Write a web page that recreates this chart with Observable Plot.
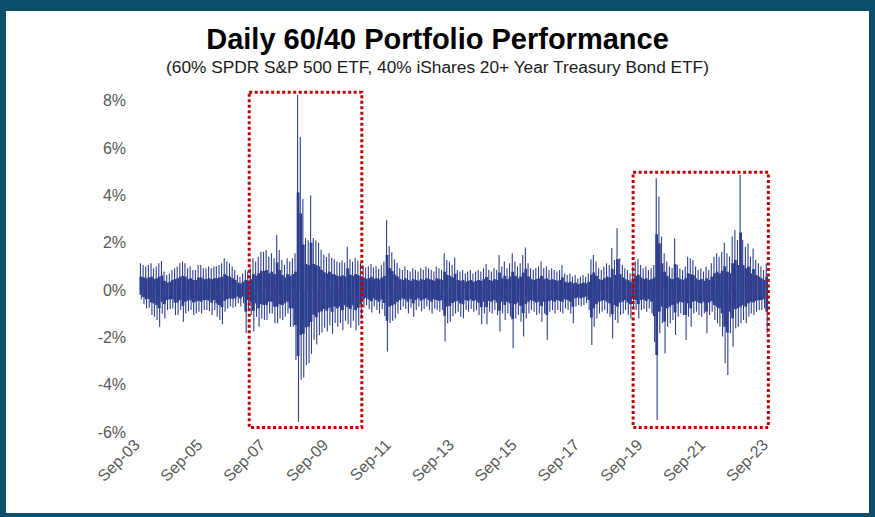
<!DOCTYPE html>
<html>
<head>
<meta charset="utf-8">
<script src="https://cdn.jsdelivr.net/npm/d3@7"></script>
<script src="https://cdn.jsdelivr.net/npm/@observablehq/plot@0.6"></script>
<style>
  html, body { margin: 0; padding: 0; background: #fff; }
  #wrap { position: relative; width: 875px; height: 517px; background: #fff; overflow: hidden; font-family: "Liberation Sans", Arial, sans-serif; }
  #title { position: absolute; left: 0; top: 25px; width: 875px; text-align: center; font-weight: bold; font-size: 29px; color: #000; line-height: 1; }
  #sub { position: absolute; left: 0; top: 59px; width: 875px; text-align: center; font-size: 17.3px; color: #1a1a1a; line-height: 1; }
  #chart { position: absolute; left: 0; top: 80px; }
  #frame { position: absolute; left: 0; top: 0; width: 875px; height: 517px; box-sizing: border-box; border-style: solid; border-color: #0d4f6b; border-width: 11px 6px 4px 6px; pointer-events: none; }
</style>
</head>
<body>
<div id="wrap">
  <div id="title">Daily 60/40 Portfolio Performance</div>
  <div id="sub">(60% SPDR S&amp;P 500 ETF, 40% iShares 20+ Year Treasury Bond ETF)</div>
  <div id="chart"></div>
  <div id="frame"></div>
</div>
<script>
// Monthly envelope of daily returns (%): Oct 2003 .. Sep 2023
const firstMonth = [2003, 9]; // Oct 2003 (UTC month index)
const monthlyHigh = [
  1.13, 1.06, 0.99, 1.06, 1.13, 0.92, 0.99, 1.13, 1.23, 0.78,
  0.63, 0.70, 0.85, 0.92, 0.99, 1.13, 1.20, 1.13, 0.92, 0.99,
  0.85, 0.85, 1.06, 1.06, 0.92, 0.92, 0.99, 0.92, 0.99, 1.00,
  1.06, 1.13, 1.34, 1.20, 1.13, 0.99, 0.85, 0.63, 0.56, 0.70,
  0.85, 0.78, 0.92, 1.34, 1.20, 1.41, 1.62, 1.62, 1.69, 1.41,
  1.55, 1.34, 2.33, 1.69, 1.27, 1.06, 1.34, 1.20, 1.34, 1.55,
  8.25, 6.47, 3.85, 2.20, 2.10, 4.00, 2.20, 2.10, 2.00, 1.70,
  1.50, 1.40, 1.55, 1.35, 1.30, 1.20, 1.15, 1.25, 1.15, 1.83,
  1.30, 1.20, 1.35, 1.25, 1.15, 1.05, 0.95, 1.00, 1.10, 0.95,
  1.00, 0.90, 1.05, 1.20, 2.96, 1.85, 1.60, 1.30, 1.15, 0.92,
  0.85, 0.99, 0.85, 0.78, 0.92, 0.85, 0.78, 0.92, 0.85, 0.99,
  0.92, 0.85, 0.78, 0.99, 0.92, 0.85, 1.55, 1.27, 1.20, 1.06,
  1.37, 0.85, 0.78, 0.85, 0.70, 0.78, 0.85, 0.70, 0.78, 0.85,
  0.78, 0.92, 1.10, 0.85, 0.78, 0.92, 0.85, 1.48, 0.99, 1.20,
  0.92, 1.13, 1.55, 1.20, 0.99, 1.13, 1.48, 1.80, 1.13, 0.92,
  0.85, 0.92, 0.99, 1.20, 0.92, 0.99, 0.85, 0.92, 0.85, 0.78,
  0.85, 1.06, 0.70, 0.63, 0.70, 0.56, 0.63, 0.49, 0.56, 0.63,
  0.56, 0.70, 1.30, 1.48, 1.20, 0.92, 0.85, 0.99, 1.13, 1.06,
  1.78, 1.27, 2.61, 1.34, 1.06, 0.92, 0.85, 0.70, 0.99, 1.20,
  1.30, 1.06, 0.92, 0.99, 0.85, 0.92, 1.06, 4.72, 3.95, 2.26,
  1.55, 1.20, 0.99, 0.92, 2.19, 1.06, 0.92, 0.85, 0.99, 1.41,
  1.34, 1.27, 0.99, 0.85, 0.92, 0.78, 0.99, 0.85, 1.13, 1.41,
  1.55, 1.41, 1.62, 2.00, 1.55, 1.41, 2.26, 2.54, 2.11, 4.86,
  2.11, 1.83, 1.97, 1.41, 1.76, 1.27, 1.13, 0.99, 0.85, 1.13
];
const monthlyLow = [
  -0.40, -0.60, -0.78, -0.75, -1.06, -1.13, -1.27, -1.55, -0.99, -1.20,
  -0.85, -0.80, -0.78, -1.06, -1.06, -0.85, -1.34, -0.99, -0.90, -0.85,
  -1.06, -0.99, -0.92, -0.99, -0.85, -0.85, -0.90, -1.06, -0.85, -1.13,
  -1.27, -1.45, -0.92, -0.78, -0.70, -0.75, -0.70, -0.56, -0.70, -0.56,
  -1.83, -0.85, -1.06, -1.76, -1.13, -1.55, -1.20, -1.27, -1.27, -0.99,
  -0.99, -1.41, -1.41, -1.20, -1.27, -1.13, -0.99, -1.55, -1.55, -2.96,
  -5.57, -3.80, -3.70, -3.17, -3.10, -2.70, -2.10, -2.30, -1.90, -1.80,
  -1.60, -1.75, -1.50, -1.85, -1.40, -1.55, -1.40, -1.70, -1.30, -1.45,
  -1.60, -1.30, -1.70, -1.50, -1.20, -0.75, -0.65, -0.80, -0.95, -0.70,
  -0.85, -1.00, -0.80, -1.10, -2.60, -1.40, -1.30, -1.20, -1.00, -0.85,
  -0.70, -0.80, -0.99, -0.75, -1.13, -0.85, -0.70, -0.90, -0.80, -0.70,
  -0.85, -0.99, -0.78, -0.85, -0.92, -0.85, -2.18, -1.41, -1.34, -1.10,
  -0.99, -0.92, -1.13, -1.20, -0.85, -0.92, -0.80, -0.92, -0.85, -1.06,
  -1.45, -0.99, -1.45, -0.92, -0.99, -0.85, -1.06, -1.76, -0.99, -1.27,
  -0.99, -1.13, -2.46, -1.20, -1.06, -1.34, -1.97, -1.20, -0.99, -0.85,
  -0.92, -1.06, -0.99, -1.34, -0.99, -2.11, -0.92, -0.85, -0.99, -0.85,
  -0.92, -0.99, -0.78, -0.85, -0.99, -1.41, -0.70, -0.63, -0.70, -0.63,
  -0.56, -0.85, -2.33, -1.55, -1.20, -0.99, -0.92, -0.85, -0.99, -1.13,
  -2.05, -1.27, -1.41, -1.06, -0.99, -0.85, -1.06, -1.20, -0.78, -0.85,
  -1.20, -0.85, -0.80, -0.92, -0.78, -0.99, -2.20, -5.50, -1.83, -1.41,
  -2.68, -1.55, -1.41, -1.27, -1.90, -1.13, -0.99, -1.06, -2.11, -1.13,
  -1.55, -0.99, -0.92, -1.06, -1.13, -0.99, -1.83, -1.06, -0.92, -1.27,
  -1.41, -1.55, -1.97, -3.10, -3.59, -1.83, -2.40, -1.62, -1.55, -1.41,
  -1.27, -1.41, -1.13, -0.99, -1.06, -0.92, -0.85, -0.85, -0.78, -1.83
];
// Axis ticks
const xTickYears = [2003, 2005, 2007, 2009, 2011, 2013, 2015, 2017, 2019, 2021, 2023];
const yTicks = [-6, -4, -2, 0, 2, 4, 6, 8];
// Highlight boxes (annotation)
const boxStart = ["2007-04-02", "2019-06-21"];
const boxEnd = ["2010-11-01", "2023-10-10"];
const boxHigh = [8.36, 4.98];
const boxLow = [-5.81, -5.81];

const months = monthlyHigh.map((h, i) => ({
  hiDate: new Date(Date.UTC(firstMonth[0], firstMonth[1] + i, 10)),
  midDate: new Date(Date.UTC(firstMonth[0], firstMonth[1] + i, 15)),
  loDate: new Date(Date.UTC(firstMonth[0], firstMonth[1] + i, 20)),
  hi: h,
  lo: monthlyLow[i]
}));
const boxes = boxStart.map((s, i) => ({start: new Date(s), end: new Date(boxEnd[i]), high: boxHigh[i], low: boxLow[i]}));
const xTicks = xTickYears.map(y => new Date(Date.UTC(y, 8, 1)));
const blue = "#2e3f8e";

const chart = Plot.plot({
  width: 875,
  height: 437,
  marginLeft: 136.6,
  marginRight: 110,
  marginTop: 20.8,
  marginBottom: 85.1,
  style: {fontFamily: "'Liberation Sans', Arial, sans-serif", fontSize: "16px", color: "#595959", background: "transparent", overflow: "visible"},
  x: {type: "utc", domain: [new Date(Date.UTC(2003, 8, 1)), new Date(Date.UTC(2023, 8, 1))]},
  y: {domain: [-6, 8]},
  marks: [
    Plot.axisX({ticks: xTicks, tickFormat: d3.utcFormat("%b-%y"), tickRotate: -45, tickSize: 0, tickPadding: 10, label: null, fill: "#595959"}),
    Plot.axisY({ticks: yTicks, tickFormat: d => d + "%", tickSize: 0, tickPadding: 11, label: null, fill: "#595959"}),
    // dense core of each month
    Plot.ruleX(months, {x: "midDate", y1: d => d.lo * 0.5, y2: d => d.hi * 0.5, stroke: blue, strokeWidth: 2.8}),
    // extreme up / down days of each month
    Plot.ruleX(months, {x: "hiDate", y1: 0, y2: "hi", stroke: blue, strokeWidth: 1.1}),
    Plot.ruleX(months, {x: "loDate", y1: 0, y2: "lo", stroke: blue, strokeWidth: 1.1}),
    Plot.rect(boxes, {x1: "start", x2: "end", y1: "low", y2: "high", fill: "none", stroke: "#c00000", strokeWidth: 3, strokeDasharray: "3,2.5"})
  ]
});
document.getElementById("chart").appendChild(chart);
</script>
</body>
</html>
